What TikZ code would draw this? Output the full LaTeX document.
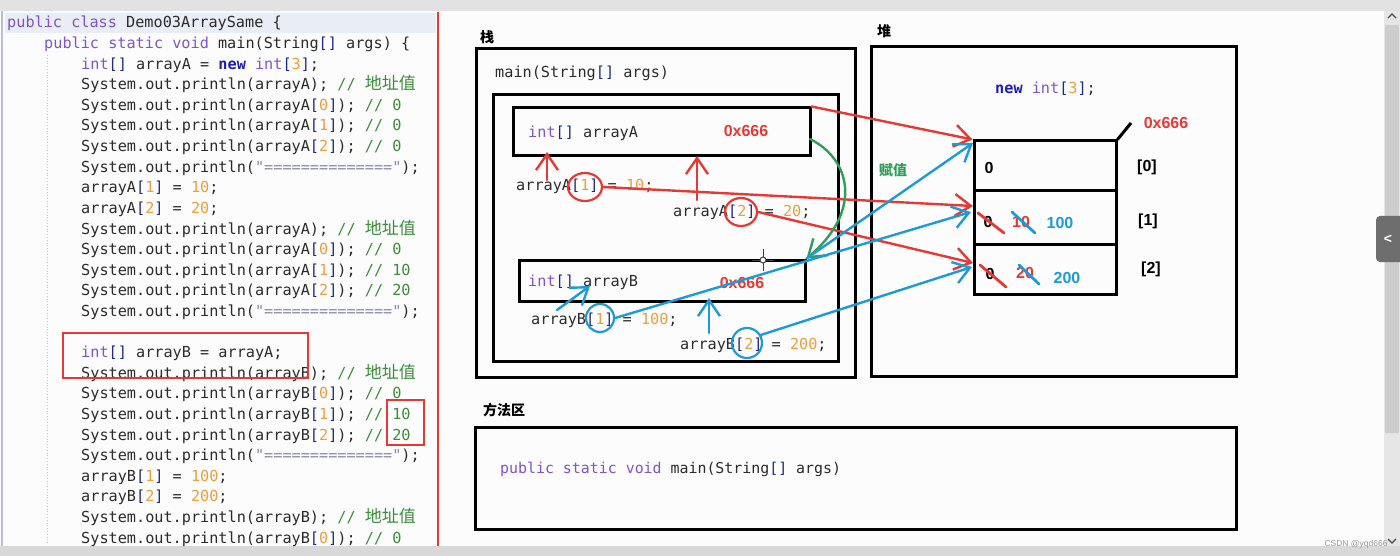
\documentclass[tikz,border=0pt]{standalone}
\usepackage{fontspec}
\setmainfont{Liberation Sans}
\newfontfamily\codefont{DejaVu Sans Mono}
\newfontfamily\cjk{Noto Sans CJK SC}
\usetikzlibrary{arrows.meta,shapes.geometric}
\definecolor{kw}{HTML}{7F55C8}
\definecolor{nw}{HTML}{1E1EB4}
\definecolor{brk}{HTML}{1F2A80}
\definecolor{numc}{HTML}{E8A040}
\definecolor{cmt}{HTML}{3C8C3C}
\definecolor{strg}{HTML}{8A8AA8}
\definecolor{txt}{HTML}{2B2B2B}
\definecolor{dred}{HTML}{E53935}
\definecolor{dblue}{HTML}{1E9AD6}
\definecolor{dgreen}{HTML}{2E9E5A}
\definecolor{hl}{HTML}{E9EDF6}
\definecolor{barg}{HTML}{E2E2E2}
\definecolor{botg}{HTML}{D8D8D8}
\definecolor{edgec}{HTML}{B8C0D8}
\definecolor{scrl}{HTML}{E6E6E6}
\definecolor{thumb}{HTML}{CDCDCD}
\definecolor{tabc}{HTML}{6E6E6E}
\definecolor{wmc}{HTML}{9A9A9A}
\newcommand\ckw[1]{\textcolor{kw}{#1}}
\newcommand\cnew[1]{\textcolor{nw}{\bfseries #1}}
\newcommand\cbr[1]{\textcolor{brk}{#1}}
\newcommand\cnum[1]{\textcolor{numc}{#1}}
\newcommand\ccm[1]{\textcolor{cmt}{#1}}
\newcommand\cstr[1]{\textcolor{strg}{#1}}
\newcommand\zh[1]{{\cjk\fontsize{17}{18}\selectfont #1}}
\begin{document}
\begin{tikzpicture}[x=1pt,y=-1pt,
  code/.style={font=\codefont\fontsize{15.2}{18}\selectfont, text=txt, inner sep=0pt, anchor=base west},
  mcode/.style={font=\codefont\fontsize{14.9}{18}\selectfont, text=txt, inner sep=0pt, anchor=base west},
  box/.style={draw=black, line width=3pt, inner sep=0pt},
  lbl/.style={font=\cjk\bfseries\fontsize{14}{16}\selectfont, inner sep=0pt},
  hnum/.style={font=\bfseries\fontsize{16}{18}\selectfont, inner sep=0pt},
  vnum/.style={font=\bfseries\fontsize{16}{18}\selectfont, inner sep=0pt},
  hand/.style={line width=2.4pt, line cap=round, line join=round},
  barb/.style={-{Straight Barb[length=16pt,width=22pt]}},
  redbox/.style={draw=dred, line width=2.5pt, inner sep=0pt}
]
\useasboundingbox (0,0) rectangle (1400,556);
\fill[white!98!gray] (0,0) rectangle (1400,556);
% top bar and bottom strip
\fill[barg] (0,0) rectangle (1400,11);
\fill[botg] (0,546) rectangle (1400,556);
% left panel
\fill[hl] (5,13) rectangle (436,33);
\draw[edgec, line width=2pt] (2,11) -- (2,546);
\draw[gray!45, dotted, line width=0.8pt] (47,55) -- (47,545);
\draw[dred, line width=2pt] (438,12) -- (438,546);

% code lines
\node[code] (L0) at (7,28) {\ckw{public class} Demo03ArraySame \{};
\node[code] (L1) at (44,48.6) {\ckw{public static void} main(String\cbr{[]} args) \{};
\node[code] (L2) at (81,69.2) {\ckw{int}\cbr{[]} arrayA = \cnew{new} \ckw{int}\cbr{[}\cnum{3}\cbr{]};};
\node[code] (L3) at (81,89.8) {System.out.println(arrayA); \ccm{// \zh{地址值}}};
\node[code] (L4) at (81,110.4) {System.out.println(arrayA\cbr{[}\cnum{0}\cbr{]}); \ccm{// 0}};
\node[code] (L5) at (81,131) {System.out.println(arrayA\cbr{[}\cnum{1}\cbr{]}); \ccm{// 0}};
\node[code] (L6) at (81,151.6) {System.out.println(arrayA\cbr{[}\cnum{2}\cbr{]}); \ccm{// 0}};
\node[code] (L7) at (81,172.2) {System.out.println(\cstr{"=============="});};
\node[code] (L8) at (81,192.8) {arrayA\cbr{[}\cnum{1}\cbr{]} = \cnum{10};};
\node[code] (L9) at (81,213.4) {arrayA\cbr{[}\cnum{2}\cbr{]} = \cnum{20};};
\node[code] (L10) at (81,234) {System.out.println(arrayA); \ccm{// \zh{地址值}}};
\node[code] (L11) at (81,254.6) {System.out.println(arrayA\cbr{[}\cnum{0}\cbr{]}); \ccm{// 0}};
\node[code] (L12) at (81,275.2) {System.out.println(arrayA\cbr{[}\cnum{1}\cbr{]}); \ccm{// 10}};
\node[code] (L13) at (81,295.8) {System.out.println(arrayA\cbr{[}\cnum{2}\cbr{]}); \ccm{// 20}};
\node[code] (L14) at (81,316.4) {System.out.println(\cstr{"=============="});};
\node[code] (L16) at (81,357.6) {\ckw{int}\cbr{[]} arrayB = arrayA;};
\node[code] (L17) at (81,378.2) {System.out.println(arrayB); \ccm{// \zh{地址值}}};
\node[code] (L18) at (81,398.8) {System.out.println(arrayB\cbr{[}\cnum{0}\cbr{]}); \ccm{// 0}};
\node[code] (L19) at (81,419.4) {System.out.println(arrayB\cbr{[}\cnum{1}\cbr{]}); \ccm{// 10}};
\node[code] (L20) at (81,440) {System.out.println(arrayB\cbr{[}\cnum{2}\cbr{]}); \ccm{// 20}};
\node[code] (L21) at (81,460.6) {System.out.println(\cstr{"=============="});};
\node[code] (L22) at (81,481.2) {arrayB\cbr{[}\cnum{1}\cbr{]} = \cnum{100};};
\node[code] (L23) at (81,501.8) {arrayB\cbr{[}\cnum{2}\cbr{]} = \cnum{200};};
\node[code] (L24) at (81,522.4) {System.out.println(arrayB); \ccm{// \zh{地址值}}};
\node[code] (L25) at (81,543) {System.out.println(arrayB\cbr{[}\cnum{0}\cbr{]}); \ccm{// 0}};
% left red marks
\node[redbox, minimum width=245pt, minimum height=45pt] (mark1) at (185.5,355.5) {};
\node[redbox, minimum width=37pt, minimum height=45pt] (mark2) at (405.5,422.5) {};

% scrollbar
\fill[scrl] (1384,11) rectangle (1400,546);
\fill[thumb] (1385,25) rectangle (1399,433);
\draw[black!70, line width=1.2pt] (1388,18) -- (1392,14) -- (1396,18);
\draw[black!70, line width=1.2pt] (1388,539) -- (1392,543) -- (1396,539);
\fill[tabc, rounded corners=4pt] (1376,216) rectangle (1404,262);
\node[font=\bfseries\fontsize{14}{16}\selectfont, text=white, inner sep=0pt] (tab) at (1388,239) {<};
\node[font=\fontsize{8.5}{10}\selectfont, text=wmc, inner sep=0pt] (wm) at (1356,544) {CSDN @yqd666};

% labels
\node[lbl] (zhan) at (487,37) {栈};
\node[lbl] (dui) at (884,31) {堆};
\node[lbl] (ffq) at (504,410) {方法区};

% boxes
\node[box, minimum width=379pt, minimum height=328pt] (stack) at (665.5,213) {};
\node[box, minimum width=345pt, minimum height=266pt] (frame) at (665.5,228) {};
\node[box, minimum width=297pt, minimum height=48pt] (boxA) at (661.5,132) {};
\node[box, minimum width=286pt, minimum height=41pt] (boxB) at (662,280.5) {};
\node[box, minimum width=365pt, minimum height=329pt] (heap) at (1053.5,211.5) {};
\node[box, minimum width=142pt, minimum height=50pt] (cell0) at (1045,166) {};
\node[box, minimum width=142pt, minimum height=53pt] (cell1) at (1045,217.5) {};
\node[box, minimum width=142pt, minimum height=50pt] (cell2) at (1045,269) {};
\node[box, minimum width=761pt, minimum height=102pt] (method) at (855.5,478) {};

% stack texts
\node[code] (mainlbl) at (495,78) {main(String\cbr{[]} args)};
\node[code] (varA) at (528,138) {\ckw{int}\cbr{[]} arrayA};
\node[hnum, text=dred] (addrA) at (746,131) {0x666};
\node[code] (setA1) at (516,191) {arrayA\cbr{[}\cnum{1}\cbr{]} = \cnum{10};};
\node[code] (setA2) at (673,217) {arrayA\cbr{[}\cnum{2}\cbr{]} = \cnum{20};};
\node[code] (varB) at (528,286) {\ckw{int}\cbr{[]} arrayB};
\node[hnum, text=dred] (addrB) at (742,283) {0x666};
\node[code] (setB1) at (531,324) {arrayB\cbr{[}\cnum{1}\cbr{]} = \cnum{100};};
\node[code] (setB2) at (680,349) {arrayB\cbr{[}\cnum{2}\cbr{]} = \cnum{200};};
% heap texts
\node[code] (newarr) at (995,94) {\cnew{new} \ckw{int}\cbr{[}\cnum{3}\cbr{]};};
\node[hnum, text=dred] (addrH) at (1166,123) {0x666};
\node[hnum] (v0) at (989,168) {0};
\node[hnum] (i0) at (1147,167) {[0]};
\node[hnum] (i1) at (1148,221) {[1]};
\node[hnum] (i2) at (1151,269) {[2]};
\node[hnum] (v1) at (988,222) {0};
\node[vnum, text=dred] (v1r) at (1021,222) {10};
\node[vnum, text=dblue] (v1b) at (1060,223) {100};
\node[hnum] (v2) at (990,274) {0};
\node[vnum, text=dred] (v2r) at (1025,273) {20};
\node[vnum, text=dblue] (v2b) at (1067,278) {200};
\node[font=\cjk\bfseries\fontsize{14}{16}\selectfont, text=dgreen, inner sep=0pt] (fz) at (893,170) {赋值};
% method area text
\node[mcode] (mtext) at (500,473) {\ckw{public static void} main(String\cbr{[]} args)};

% cursor
\draw[black!75, line width=1pt] (763,249) -- (763,271) (752,260) -- (774,260);
\draw[black!75, line width=1pt, fill=white] (763,260) circle (3);

% address tick
\coordinate (tickend) at (1131,123);
\draw[black, line width=3pt] (cell0.north east) -- (tickend);

% circles
\node[draw=dred, line width=2.2pt, ellipse, minimum width=34pt, minimum height=28pt, inner sep=0pt] (cA1) at (585,187) {};
\node[draw=dred, line width=2.2pt, ellipse, minimum width=32pt, minimum height=28pt, inner sep=0pt] (cA2) at (741,212) {};
\node[draw=dblue, line width=2.2pt, circle, minimum size=28pt, inner sep=0pt] (cB1) at (600,318) {};
\node[draw=dblue, line width=2.2pt, circle, minimum size=30pt, inner sep=0pt] (cB2) at (747,343) {};

% coordinates
\coordinate (t1r) at (973,206);
\coordinate (t2r) at (973,263);
\coordinate (t0b) at (973,143);
\coordinate (t1b) at (971,212);
\coordinate (t2b) at (972,267);
\coordinate (uA1s) at (547,180);
\coordinate (uA1t) at (547,152);
\coordinate (uA2s) at (697,200);
\coordinate (uA2t) at (697,156);
\coordinate (sB1) at (557,310);
\coordinate (tB1) at (590,286);
\coordinate (uB2s) at (709,333);
\coordinate (uB2t) at (709,298);
\coordinate (g0) at (810,139);

% red arrows
\draw[hand, barb, dred] (boxA.north east) -- (cell0.north west);
\draw[hand, barb, dred] (cA1.east) -- (t1r);
\draw[hand, barb, dred] (cA2.east) -- (t2r);
\draw[hand, barb, dred] (uA1s) -- (uA1t);
\draw[hand, barb, dred] (uA2s) -- (uA2t);
% green
\draw[hand, barb, dgreen] (g0) .. controls (852,160) and (862,212) .. (boxB.north east);
% blue arrows
\draw[hand, barb, dblue] (boxB.north east) -- (t0b);
\draw[hand, barb, dblue] (cB1.east) -- (t1b);
\draw[hand, barb, dblue] (cB2.30) -- (t2b);
\draw[hand, barb, dblue] (sB1) -- (tB1);
\draw[hand, barb, dblue] (uB2s) -- (uB2t);

% cross-outs
\draw[hand, line width=2.8pt, dred] (978,213) -- (1004,233);
\draw[hand, line width=2.8pt, dblue] (1012,212) -- (1035,233);
\draw[hand, line width=2.8pt, dred] (980,265) -- (1006,287);
\draw[hand, line width=2.8pt, dblue] (1019,265) -- (1039,284);
\end{tikzpicture}
\end{document}
